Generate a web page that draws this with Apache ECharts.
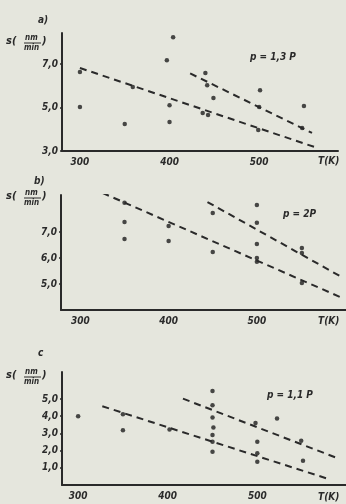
<!DOCTYPE html>
<html>
<head>
<meta charset="utf-8">
<script src="https://cdn.jsdelivr.net/npm/echarts@6/dist/echarts.min.js"></script>
<style>
  html, body { margin: 0; padding: 0; background: #e5e6dd; }
  #chart { width: 346px; height: 504px; }
</style>
</head>
<body>
<div id="chart"></div>
<script>
// tick labels
const xTicks = [300, 400, 500];
const aYTicks = [3, 5, 7];
const bYTicks = [5, 6, 7];
const cYTicks = [1, 2, 3, 4, 5];

// panel a) p = 1,3 P : measured points [T, s]
const aPoints = [
  [300, 6.63], [300, 5.02], [350, 4.24], [359, 5.94], [400, 5.11], [400, 4.33],
  [397, 7.18], [404, 8.24], [440, 6.59], [442, 6.03], [449, 5.44], [437, 4.75],
  [443, 4.66], [501, 5.8], [500, 5.02], [499, 3.97], [550, 5.07], [548, 4.06]
];
const aLineLow = [[300, 6.82], [565, 3.14]];
const aLineHigh = [[423, 6.57], [559, 3.83]];

// panel b) p = 2P
const bPoints = [
  [350, 8.12], [350, 7.38], [350, 6.73], [400, 7.23], [400, 6.65], [450, 7.73],
  [450, 6.23], [500, 8.04], [500, 7.35], [500, 6.54], [500, 6.0], [500, 5.85],
  [551, 6.38], [551, 6.19], [551, 5.04]
];
const bLineLow = [[325, 8.5], [597, 4.46]];
const bLineHigh = [[444, 8.15], [596, 5.27]];

// panel c) p = 1,1 P
const cPoints = [
  [300, 4.0], [350, 4.12], [350, 3.19], [402, 3.23], [450, 5.47], [450, 4.64],
  [450, 3.92], [451, 3.34], [450, 2.9], [450, 2.51], [450, 1.93], [498, 3.61],
  [500, 2.51], [500, 1.84], [500, 1.35], [522, 3.86], [549, 2.57], [551, 1.41]
];
const cLineLow = [[327, 4.58], [577, 0.39]];
const cLineHigh = [[417, 5.02], [590, 1.55]];

const ink = '#2a2a2a';
const family = '"DejaVu Sans Condensed", "DejaVu Sans", sans-serif';
const font = { fontFamily: family, fontStyle: 'italic', fontWeight: 'bold', color: ink };

const chart = echarts.init(document.getElementById('chart'));

function xAxisFor(i, min, max) {
  return {
    type: 'value', gridIndex: i, min: min, max: max,
    splitLine: { show: false },
    axisLine: { lineStyle: { color: ink, width: 2 } },
    axisTick: { show: false },
    axisLabel: Object.assign({ customValues: xTicks, fontSize: 10, margin: 6 }, font)
  };
}

function yAxisFor(i, min, max, ticks) {
  return {
    type: 'value', gridIndex: i, min: min, max: max,
    splitLine: { show: false },
    axisLine: { show: true, lineStyle: { color: ink, width: 2 } },
    axisTick: { show: true, customValues: ticks, length: 2, lineStyle: { color: ink, width: 1.5 } },
    axisLabel: Object.assign({
      customValues: ticks, fontSize: 10, margin: 4,
      formatter: v => v.toFixed(1).replace('.', ',')
    }, font)
  };
}

function dots(i, data) {
  return {
    type: 'scatter', xAxisIndex: i, yAxisIndex: i, data: data,
    symbolSize: 4.5, itemStyle: { color: '#1e1e1e' }, silent: true
  };
}

function dashed(i, data) {
  return {
    type: 'line', xAxisIndex: i, yAxisIndex: i, data: data,
    showSymbol: false, silent: true,
    lineStyle: { color: ink, width: 2, type: [7, 5] }
  };
}

// y axis title "s(nm/min)" drawn as a small fraction
function sTitle(x, y) {
  const t = { fontFamily: family, fontStyle: 'italic', fontWeight: 'bold', fill: ink, fontSize: 11 };
  const small = Object.assign({}, t, { fontSize: 8 });
  return {
    type: 'group', x: x, y: y, silent: true,
    children: [
      { type: 'text', x: 0, y: -7, style: Object.assign({ text: 's(' }, t) },
      { type: 'text', x: 19, y: -9, style: Object.assign({ text: 'nm' }, small) },
      { type: 'line', shape: { x1: 18, y1: 0, x2: 35, y2: 0 }, style: { stroke: ink, lineWidth: 1 } },
      { type: 'text', x: 18, y: 1, style: Object.assign({ text: 'min' }, small) },
      { type: 'text', x: 36, y: -7, style: Object.assign({ text: ')' }, t) }
    ]
  };
}

function label(x, y, text, size) {
  return {
    type: 'text', x: x, y: y, silent: true,
    style: { text: text, fill: ink, fontFamily: family, fontStyle: 'italic',
      fontWeight: 'bold', fontSize: size || 10, verticalAlign: 'middle' }
  };
}

chart.setOption({
  backgroundColor: '#e5e6dd',
  animation: false,
  grid: [
    { left: 62, top: 33, width: 276, height: 118 },
    { left: 61, top: 195, width: 285, height: 115 },
    { left: 62, top: 372, width: 284, height: 113 }
  ],
  xAxis: [
    xAxisFor(0, 280, 588),
    xAxisFor(1, 278, 601),
    xAxisFor(2, 282, 599)
  ],
  yAxis: [
    yAxisFor(0, 3, 8.43, aYTicks),
    yAxisFor(1, 4, 8.42, bYTicks),
    yAxisFor(2, 0, 6.57, cYTicks)
  ],
  series: [
    dots(0, aPoints), dashed(0, aLineLow), dashed(0, aLineHigh),
    dots(1, bPoints), dashed(1, bLineLow), dashed(1, bLineHigh),
    dots(2, cPoints), dashed(2, cLineLow), dashed(2, cLineHigh)
  ],
  graphic: [
    label(38, 20, 'a)'),
    sTitle(6, 43),
    label(250, 57, 'p = 1,3 P'),
    label(318, 161, 'T(K)'),
    label(34, 181, 'b)'),
    sTitle(6, 198),
    label(283, 214, 'p = 2P'),
    label(318, 321, 'T(K)'),
    label(38, 353, 'c'),
    sTitle(6, 377),
    label(267, 395, 'p = 1,1 P'),
    label(318, 497, 'T(K)')
  ]
});
</script>
</body>
</html>
